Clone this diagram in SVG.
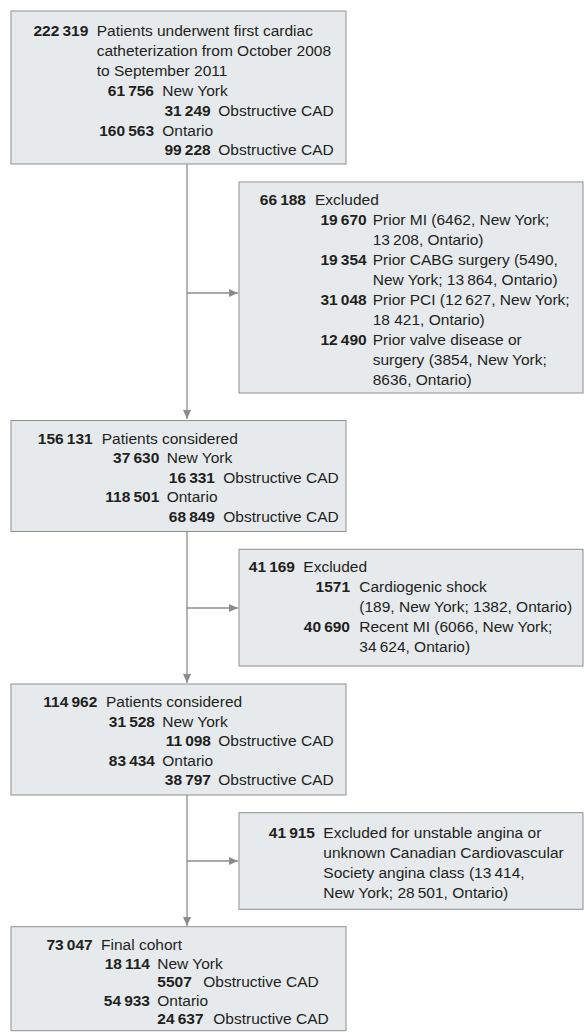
<svg xmlns="http://www.w3.org/2000/svg" width="584" height="1032" viewBox="0 0 584 1032">
<style>
text { font-family: "Liberation Sans", Arial, sans-serif; font-size: 15.5px; fill: #231f20; }
.n { font-weight: bold; text-anchor: end; }
.ns { font-weight: bold; }
.box { fill: #e6eaed; stroke: #8f8f8f; stroke-width: 1; }
.ln { fill: none; stroke: #8c8c8c; stroke-width: 1.3; }
</style>
<defs>
<marker id="ah" markerUnits="userSpaceOnUse" markerWidth="10" markerHeight="10" viewBox="0 0 10 10" refX="9" refY="5" orient="auto">
<path d="M0,1 L9,5 L0,9 Z" fill="#8c8c8c"/>
</marker>
</defs>
<g id="connectors">
<line class="ln" x1="187" y1="164" x2="187" y2="419" marker-end="url(#ah)"/>
<line class="ln" x1="187" y1="293" x2="238" y2="293" marker-end="url(#ah)"/>
<line class="ln" x1="187" y1="532" x2="187" y2="683" marker-end="url(#ah)"/>
<line class="ln" x1="187" y1="608" x2="238" y2="608" marker-end="url(#ah)"/>
<line class="ln" x1="187" y1="795" x2="187" y2="926" marker-end="url(#ah)"/>
<line class="ln" x1="187" y1="861" x2="238" y2="861" marker-end="url(#ah)"/>
</g>
<g id="box1">
<rect class="box" x="11" y="11" width="335" height="153"/>
<text class="n" x="88.3" y="36">222&#8201;319</text><text x="96.7" y="36">Patients underwent first cardiac</text>
<text x="96.7" y="56">catheterization from October 2008</text>
<text x="96.7" y="76">to September 2011</text>
<text class="n" x="154" y="95.5">61&#8201;756</text><text x="162.3" y="95.5">New York</text>
<text class="n" x="210.7" y="115.5">31&#8201;249</text><text x="218.3" y="115.5">Obstructive CAD</text>
<text class="n" x="154" y="135.5">160&#8201;563</text><text x="162.3" y="135.5">Ontario</text>
<text class="n" x="210.7" y="155">99&#8201;228</text><text x="218.3" y="155">Obstructive CAD</text>
</g>
<g id="excluded1">
<rect class="box" x="239" y="182" width="344" height="211"/>
<text class="n" x="306" y="205">66&#8201;188</text><text x="315" y="205">Excluded</text>
<text class="n" x="366.7" y="225">19&#8201;670</text><text x="372.7" y="225">Prior MI (6462, New York;</text>
<text x="372.7" y="245">13&#8201;208, Ontario)</text>
<text class="n" x="366.7" y="265">19&#8201;354</text><text x="372.7" y="265">Prior CABG surgery (5490,</text>
<text x="372.7" y="285">New York; 13&#8201;864, Ontario)</text>
<text class="n" x="366.7" y="305">31&#8201;048</text><text x="372.7" y="305">Prior PCI (12&#8201;627, New York;</text>
<text x="372.7" y="325">18 421, Ontario)</text>
<text class="n" x="366.7" y="345">12&#8201;490</text><text x="372.7" y="345">Prior valve disease or</text>
<text x="372.7" y="365">surgery (3854, New York;</text>
<text x="372.7" y="385">8636, Ontario)</text>
</g>
<g id="box2">
<rect class="box" x="11" y="420.5" width="335" height="111"/>
<text class="n" x="92.7" y="443.5">156&#8201;131</text><text x="101.7" y="443.5">Patients considered</text>
<text class="n" x="159.3" y="463.1">37&#8201;630</text><text x="166.7" y="463.1">New York</text>
<text class="n" x="215" y="482.7">16&#8201;331</text><text x="223.3" y="482.7">Obstructive CAD</text>
<text class="n" x="159.3" y="502.3">118&#8201;501</text><text x="166.7" y="502.3">Ontario</text>
<text class="n" x="215" y="521.9">68&#8201;849</text><text x="223.3" y="521.9">Obstructive CAD</text>
</g>
<g id="excluded2">
<rect class="box" x="239" y="549.3" width="344" height="116.7"/>
<text class="n" x="295" y="572">41&#8201;169</text><text x="303.3" y="572">Excluded</text>
<text class="n" x="350" y="592">1571</text><text x="359.3" y="592">Cardiogenic shock</text>
<text x="359.3" y="612">(189, New York; 1382, Ontario)</text>
<text class="n" x="350" y="632">40&#8201;690</text><text x="359.3" y="632">Recent MI (6066, New York;</text>
<text x="359.3" y="652">34&#8201;624, Ontario)</text>
</g>
<g id="box3">
<rect class="box" x="11" y="684" width="335" height="111"/>
<text class="n" x="97.3" y="707">114&#8201;962</text><text x="106" y="707">Patients considered</text>
<text class="n" x="155" y="726.6">31&#8201;528</text><text x="162.3" y="726.6">New York</text>
<text class="n" x="211" y="746.2">11&#8201;098</text><text x="218.3" y="746.2">Obstructive CAD</text>
<text class="n" x="155" y="765.8">83&#8201;434</text><text x="162.3" y="765.8">Ontario</text>
<text class="n" x="211" y="785.4">38&#8201;797</text><text x="218.3" y="785.4">Obstructive CAD</text>
</g>
<g id="excluded3">
<rect class="box" x="239" y="812.7" width="344" height="96.6"/>
<text class="n" x="315" y="838.3">41&#8201;915</text><text x="323.3" y="838.3">Excluded for unstable angina or</text>
<text x="323.3" y="858.3">unknown Canadian Cardiovascular</text>
<text x="323.3" y="878.3">Society angina class (13&#8201;414,</text>
<text x="323.3" y="898.3">New York; 28&#8201;501, Ontario)</text>
</g>
<g id="box4">
<rect class="box" x="11" y="926.7" width="335" height="104"/>
<text class="n" x="92.7" y="950">73&#8201;047</text><text x="101" y="950">Final cohort</text>
<text class="n" x="150" y="968.6">18&#8201;114</text><text x="157.3" y="968.6">New York</text>
<text class="ns" x="157.3" y="987.2">5507</text><text x="203.3" y="987.2">Obstructive CAD</text>
<text class="n" x="150" y="1005.8">54&#8201;933</text><text x="157.3" y="1005.8">Ontario</text>
<text class="ns" x="157.3" y="1024.4">24&#8201;637</text><text x="213.3" y="1024.4">Obstructive CAD</text>
</g>
</svg>
